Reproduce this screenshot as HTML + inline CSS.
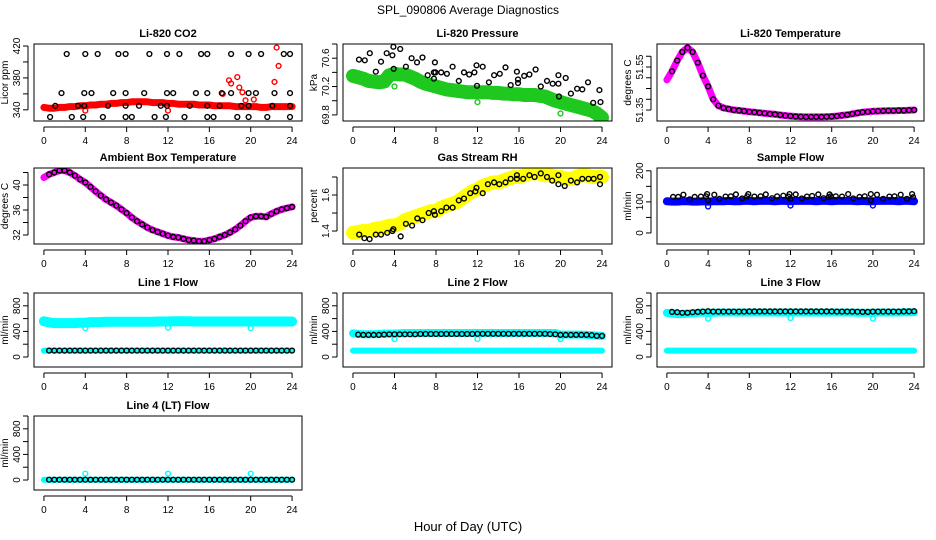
<!DOCTYPE html>
<html><head><meta charset="utf-8"><style>
body{margin:0;background:#fff;}
svg{display:block;font-family:"Liberation Sans",sans-serif;}
</style></head><body>
<svg id="fig" width="936" height="540" viewBox="0 0 936 540">
<text x="468" y="14" text-anchor="middle" font-size="12">SPL_090806  Average Diagnostics</text>
<text x="468" y="531" text-anchor="middle" font-size="13">Hour of Day (UTC)</text>
</svg>
<script>
const H = [0,0.5,1,1.5,2,2.5,3,3.5,4,4.5,5,5.5,6,6.5,7,7.5,8,8.5,9,9.5,10,10.5,11,11.5,12,12.5,13,13.5,14,14.5,15,15.5,16,16.5,17,17.5,18,18.5,19,19.5,20,20.5,21,21.5,22,22.5,23,23.5,24];
const xTicks = [0,4,8,12,16,20,24];
const co2Red = [343,342,342,343,343,344,344,345,345,346,346,347,347,348,348,349,349,350,350,350,350,349,349,349,348,348,347,347,347,347,346,346,346,345,345,345,345,344,344,344,344,344,343,343,344,344,344,344,344];
const co2OutX = [4,12,17.3,17.9,18.1,18.7,18.9,19.2,19.5,20.3,22.3,22.5,22.7];
const co2OutY = [339,339,360,377,373,381,368,362,352,353,375,418,395];
const co2BlkX = [2.2,4.0,5.2,7.2,7.9,10.2,11.9,13.1,15.2,15.8,18.1,19.8,21.0,23.2,23.8,1.7,3.9,4.6,6.7,7.9,9.7,11.9,12.5,14.7,15.8,17.2,18.1,19.8,20.5,22.3,23.8,1.1,3.3,3.9,6.2,7.9,9.2,11.3,11.9,14.1,15.8,17.0,19.1,19.8,22.1,23.8,0.6,2.7,3.8,5.7,7.9,8.5,10.7,11.8,13.6,15.8,16.4,18.7,19.8,21.6,23.8];
const co2BlkY = [410,410,410,410,410,410,410,410,410,410,410,410,410,410,410,361,361,361,361,361,361,361,361,361,361,361,361,361,361,361,361,345,345,345,345,345,345,345,345,345,345,345,345,345,345,345,331,331,331,331,331,331,331,331,331,331,331,331,331,331,331];
const presGreen = [70.35,70.33,70.31,70.28,70.27,70.26,70.27,70.36,70.38,70.37,70.37,70.34,70.31,70.27,70.24,70.22,70.20,70.18,70.16,70.15,70.14,70.13,70.12,70.12,70.12,70.12,70.12,70.11,70.11,70.10,70.10,70.09,70.09,70.08,70.08,70.08,70.07,70.06,70.03,70.00,69.98,69.96,69.94,69.92,69.90,69.88,69.86,69.82,69.76];
const presOutX = [4.0,12.0,20.0];
const presOutY = [70.20,69.98,69.82];
const presBlkX = [0.58,1.14,1.62,2.2,2.7,3.25,3.8,3.9,3.93,4.55,5.1,5.65,6.17,6.7,7.2,7.8,7.8,7.9,7.95,8.5,9.05,9.6,10.2,10.7,11.2,11.7,11.9,11.95,12.5,13.1,13.6,14.15,14.7,15.2,15.8,15.9,15.9,16.5,17.0,17.6,18.1,18.7,19.25,19.8,19.8,19.85,20.5,21.0,21.6,22.1,22.65,23.15,23.75,23.85];
const presBlkY = [70.58,70.57,70.67,70.41,70.55,70.67,70.64,70.76,70.45,70.73,70.48,70.60,70.54,70.61,70.36,70.31,70.40,70.54,70.40,70.40,70.38,70.48,70.28,70.40,70.37,70.40,70.50,70.21,70.48,70.26,70.36,70.38,70.47,70.22,70.41,70.30,70.25,70.35,70.37,70.44,70.20,70.28,70.24,70.24,70.36,70.06,70.32,70.10,70.17,70.16,70.26,69.97,70.15,69.98];
const tempMag = [51.49,51.53,51.58,51.62,51.64,51.62,51.57,51.51,51.46,51.40,51.37,51.36,51.355,51.35,51.348,51.345,51.342,51.34,51.337,51.335,51.332,51.33,51.327,51.324,51.322,51.32,51.319,51.318,51.318,51.318,51.318,51.319,51.32,51.322,51.325,51.328,51.332,51.336,51.34,51.342,51.344,51.345,51.346,51.347,51.347,51.348,51.348,51.349,51.35];
const ambMag = [41.2,41.7,42.0,42.3,42.3,42.0,41.5,40.9,40.4,39.7,39.0,38.3,37.7,37.2,36.7,36.1,35.5,34.8,34.2,33.7,33.2,32.8,32.5,32.2,31.9,31.7,31.6,31.4,31.2,31.1,31.0,31.0,31.2,31.4,31.7,32.0,32.4,32.9,33.5,34.2,34.8,35.0,35.0,34.9,35.4,35.8,36.1,36.3,36.5];
const rhYellow = [1.39,1.395,1.40,1.40,1.41,1.415,1.42,1.43,1.43,1.44,1.46,1.47,1.48,1.49,1.50,1.51,1.51,1.53,1.54,1.55,1.56,1.58,1.60,1.62,1.63,1.65,1.66,1.67,1.67,1.68,1.69,1.70,1.70,1.71,1.72,1.72,1.72,1.71,1.71,1.70,1.70,1.69,1.69,1.70,1.71,1.71,1.70,1.70,1.70];
const rhBlkX = [0.6,1.1,1.6,2.2,2.7,3.3,3.8,3.9,4.6,5.1,5.7,6.2,6.7,7.3,7.8,7.9,8.5,9,9.6,10.2,10.7,11.3,11.8,11.9,12.5,13,13.6,14.1,14.7,15.2,15.8,15.8,16.4,17,17.5,18.1,18.7,19.2,19.8,19.8,20.4,21,21.6,22.1,22.7,23.2,23.8,23.8];
const rhBlkY = [1.38,1.36,1.355,1.38,1.38,1.39,1.40,1.41,1.37,1.44,1.43,1.47,1.46,1.50,1.51,1.49,1.51,1.53,1.53,1.57,1.58,1.61,1.62,1.64,1.61,1.66,1.67,1.66,1.67,1.69,1.71,1.69,1.69,1.71,1.70,1.72,1.70,1.68,1.71,1.66,1.65,1.68,1.67,1.69,1.69,1.69,1.70,1.66];
const sampBlue = [102,101,101,102,102,101,101,102,101,102,102,102,103,102,102,103,103,102,103,103,103,102,103,103,102,103,103,103,103,102,103,103,102,103,103,103,103,102,103,102,102,103,103,103,103,102,103,103,102];
const sampOutX = [4,12,20];
const sampOutY = [85,88,88];
const sampBlkX = [0.6,1.1,1.6,2.2,2.7,3.3,3.8,3.9,4.0,4.6,5.1,5.7,6.2,6.7,7.3,7.8,7.9,8.5,9.1,9.6,10.2,10.7,11.3,11.8,11.9,12.0,12.5,13.1,13.6,14.1,14.7,15.2,15.7,15.8,15.9,16.4,17.0,17.6,18.1,18.7,19.2,19.8,19.8,20.4,21.0,21.6,22.1,22.7,23.3,23.8,23.9];
const sampBlkY = [116,116,123,108,116,117,118,125,105,123,110,117,118,124,111,118,125,117,118,124,112,118,120,117,125,110,124,111,117,119,124,112,115,124,118,118,117,125,111,116,118,125,105,123,110,117,118,123,110,125,115];
const l1Cyan = [560,540,530,530,530,530,530,535,535,545,545,545,550,550,550,550,550,550,550,550,550,550,555,555,555,560,560,560,560,555,555,555,555,555,555,555,555,555,555,555,555,555,555,555,555,555,555,555,555];
const l1Low = [100,100,100,100,100,100,100,100,100,100,100,100,100,100,100,100,100,100,100,100,100,100,100,100,100,100,100,100,100,100,100,100,100,100,100,100,100,100,100,100,100,100,100,100,100,100,100,100,100];
const l1Blk = [100,100,100,100,100,100,100,100,100,100,100,100,100,100,100,100,100,100,100,100,100,100,100,100,100,100,100,100,100,100,100,100,100,100,100,100,100,100,100,100,100,100,100,100,100,100,100,100,100];
const l1OutX = [4,12,20];
const l1OutY = [450,460,450];
const l2Cyan = [370,360,355,355,355,360,365,365,365,370,375,375,375,375,375,375,375,375,375,375,375,375,375,375,375,375,375,375,375,375,375,375,375,375,375,375,375,375,375,375,350,350,350,350,350,345,340,335,330];
const l2Blk = [370,350,345,345,345,345,350,355,355,355,355,355,355,360,360,360,360,360,360,360,360,360,360,360,362,362,362,362,362,362,362,362,362,362,362,362,362,362,358,355,345,345,345,345,345,345,340,330,330];
const l2OutX = [4,12,20];
const l2OutY = [280,280,280];
const l3Cyan = [690,680,670,670,680,680,690,690,690,690,695,695,695,695,695,695,695,695,695,695,695,695,695,695,695,695,695,695,695,695,695,695,695,695,695,695,695,690,690,690,690,695,695,695,695,695,700,700,700];
const l3Blk = [700,705,700,690,690,700,705,710,715,710,710,710,710,710,710,710,712,712,712,712,712,712,712,712,712,712,712,712,712,712,712,712,712,710,710,710,710,708,705,705,710,710,710,710,710,710,712,712,715];
const l3OutX = [4,12,20];
const l3OutY = [600,610,600];
const l4Cyan = [5,5,5,5,5,5,5,5,5,5,5,5,5,5,5,5,5,5,5,5,5,5,5,5,5,5,5,5,5,5,5,5,5,5,5,5,5,5,5,5,5,5,5,5,5,5,5,5,5];
const l4Blk = [5,5,5,5,5,5,5,5,5,5,5,5,5,5,5,5,5,5,5,5,5,5,5,5,5,5,5,5,5,5,5,5,5,5,5,5,5,5,5,5,5,5,5,5,5,5,5,5,5];
const l4OutX = [4,12,20];
const l4OutY = [100,100,100];

const NS = "http://www.w3.org/2000/svg";
const svg = document.getElementById('fig');
function mk(tag, attrs, parent){const e=document.createElementNS(NS,tag);for(const k in attrs)e.setAttribute(k,attrs[k]);(parent||svg).appendChild(e);return e;}

const cols = [{L:34,W:268},{L:343,W:269},{L:657,W:267}];
const rows = [{T:44,Hh:77},{T:168,Hh:76},{T:293,Hh:74},{T:416,Hh:74}];
const flowDom = [-156,1000];

function panel(name, r, c, title, ylab, dom, yt, ylabShow, layers){
  const {L,W}=cols[c], {T,Hh}=rows[r];
  const g = mk('g',{});
  
  
  const xs = h => L + (h+0.96)/25.92*W;
  const ys = v => T + Hh - (v-dom[0])/(dom[1]-dom[0])*Hh;
  const clipId='clip-'+name;
  const cp=mk('clipPath',{id:clipId},g); mk('rect',{x:L,y:T,width:W,height:Hh},cp);
  const plot=mk('g',{'clip-path':'url(#'+clipId+')'},g);
  for(const ly of layers){
    if(ly.type==='band'){
      const pts=ly.x.map((h,i)=>xs(h).toFixed(1)+','+ys(ly.y[i]).toFixed(1)).join(' ');
      const pl=mk('polyline',{points:pts,fill:'none',stroke:ly.color,'stroke-width':ly.w,'stroke-linejoin':'round','stroke-linecap':'round'},plot);
      
      
    } else {
      for(let i=0;i<ly.x.length;i++){
        const ci=mk('circle',{cx:xs(ly.x[i]).toFixed(1),cy:ys(ly.y[i]).toFixed(1),r:2.4,fill:'none',stroke:ly.color,'stroke-width':1.4},plot);
        
        
      }
    }
  }
  const box=mk('rect',{x:L,y:T,width:W,height:Hh,fill:'none',stroke:'#000','stroke-width':1},g);
  
  
  const tt=mk('text',{x:L+W/2,y:T-7,'text-anchor':'middle','font-size':11,'font-weight':'bold'},g);
  tt.textContent=title;
  
  
  mk('line',{x1:xs(0),x2:xs(24),y1:T+Hh+6,y2:T+Hh+6,stroke:'#000'},g);
  for(const t of xTicks){
    mk('line',{x1:xs(t),x2:xs(t),y1:T+Hh+6,y2:T+Hh+11,stroke:'#000'},g);
    const tx=mk('text',{x:xs(t),y:T+Hh+23,'text-anchor':'middle','font-size':10},g);
    tx.textContent=t;
    
    
  }
  mk('line',{x1:L-6,x2:L-6,y1:ys(yt[0]),y2:ys(yt[yt.length-1]),stroke:'#000'},g);
  yt.forEach(v=>{
    mk('line',{x1:L-11,x2:L-6,y1:ys(v),y2:ys(v),stroke:'#000'},g);
  });
  ylabShow.forEach(v=>{
    const y=ys(v);
    const tx=mk('text',{x:L-14,y:y,'text-anchor':'middle','font-size':10,transform:`rotate(-90 ${L-14} ${y})`},g);
    tx.textContent=v;
    
    
  });
  const cy=T+Hh/2;
  const yl=mk('text',{x:L-26,y:cy,'text-anchor':'middle','font-size':10,transform:`rotate(-90 ${L-26} ${cy})`},g);
  yl.textContent=ylab;
  
  
}
const H48 = H.slice(1);
panel('co2',0,0,'Li-820 CO2','Licor ppm',[326,422.5],[340,360,380,400,420],[340,380,420],[
  {type:'band',x:H,y:co2Red,color:'#f00',w:7,name:'co2-band'},
  {type:'pts',x:co2OutX,y:co2OutY,color:'#f00',name:'co2-outlier'},
  {type:'pts',x:co2BlkX,y:co2BlkY,color:'#000',name:'co2-average-point'}]);
panel('pressure',0,1,'Li-820 Pressure','kPa',[69.714,70.8],[69.8,70.0,70.2,70.4,70.6,70.8],[69.8,70.2,70.6],[
  {type:'band',x:H,y:presGreen,color:'#1ec81e',w:14,name:'pressure-band'},
  {type:'pts',x:presOutX,y:presOutY,color:'#1ec81e',name:'pressure-outlier'},
  {type:'pts',x:presBlkX,y:presBlkY,color:'#000',name:'pressure-average-point'}]);
panel('li820-temp',0,2,'Li-820 Temperature','degrees C',[51.299,51.657],[51.35,51.4,51.45,51.5,51.55,51.6],[51.35,51.55],[
  {type:'band',x:H,y:tempMag,color:'#f0f',w:7,name:'li820-temp-band'},
  {type:'pts',x:H48,y:tempMag.slice(1),color:'#000',name:'li820-temp-average-point'}]);
panel('ambient-temp',1,0,'Ambient Box Temperature','degrees C',[30.56,42.72],[32,34,36,38,40,42],[32,36,40],[
  {type:'band',x:H,y:ambMag,color:'#f0f',w:7,name:'ambient-temp-band'},
  {type:'pts',x:H48,y:ambMag.slice(1),color:'#000',name:'ambient-temp-average-point'}]);
panel('gas-rh',1,1,'Gas Stream RH','percent',[1.328,1.75],[1.4,1.5,1.6,1.7],[1.4,1.6],[
  {type:'band',x:H,y:rhYellow,color:'#ff0',w:14,name:'gas-rh-band'},
  {type:'pts',x:rhBlkX,y:rhBlkY,color:'#000',name:'gas-rh-average-point'}]);
panel('sample-flow',1,2,'Sample Flow','ml/min',[-35.5,209],[0,50,100,150,200],[0,100,200],[
  {type:'band',x:H,y:sampBlue,color:'#00f',w:8,name:'sample-flow-band'},
  {type:'pts',x:sampOutX,y:sampOutY,color:'#00f',name:'sample-flow-outlier'},
  {type:'pts',x:sampBlkX,y:sampBlkY,color:'#000',name:'sample-flow-average-point'}]);
const ft=[0,200,400,600,800,1000], fl=[0,400,800];
panel('line1-flow',2,0,'Line 1 Flow','ml/min',flowDom,ft,fl,[
  {type:'band',x:H,y:l1Cyan,color:'#0ff',w:10,name:'line1-flow-band'},
  {type:'band',x:H,y:l1Low,color:'#0ff',w:6,name:'line1-low-band'},
  {type:'pts',x:l1OutX,y:l1OutY,color:'#0ff',name:'line1-outlier'},
  {type:'pts',x:H48,y:l1Blk.slice(1),color:'#000',name:'line1-average-point'}]);
panel('line2-flow',2,1,'Line 2 Flow','ml/min',flowDom,ft,fl,[
  {type:'band',x:H,y:l2Cyan,color:'#0ff',w:8,name:'line2-flow-band'},
  {type:'band',x:H,y:l1Low,color:'#0ff',w:6,name:'line2-low-band'},
  {type:'pts',x:l2OutX,y:l2OutY,color:'#0ff',name:'line2-outlier'},
  {type:'pts',x:H48,y:l2Blk.slice(1),color:'#000',name:'line2-average-point'}]);
panel('line3-flow',2,2,'Line 3 Flow','ml/min',flowDom,ft,fl,[
  {type:'band',x:H,y:l3Cyan,color:'#0ff',w:8,name:'line3-flow-band'},
  {type:'band',x:H,y:l1Low,color:'#0ff',w:6,name:'line3-low-band'},
  {type:'pts',x:l3OutX,y:l3OutY,color:'#0ff',name:'line3-outlier'},
  {type:'pts',x:H48,y:l3Blk.slice(1),color:'#000',name:'line3-average-point'}]);
panel('line4-flow',3,0,'Line 4 (LT) Flow','ml/min',flowDom,ft,fl,[
  {type:'band',x:H,y:l4Cyan,color:'#0ff',w:6,name:'line4-flow-band'},
  {type:'pts',x:l4OutX,y:l4OutY,color:'#0ff',name:'line4-outlier'},
  {type:'pts',x:H48,y:l4Blk.slice(1),color:'#000',name:'line4-average-point'}]);
</script>
</body></html>
